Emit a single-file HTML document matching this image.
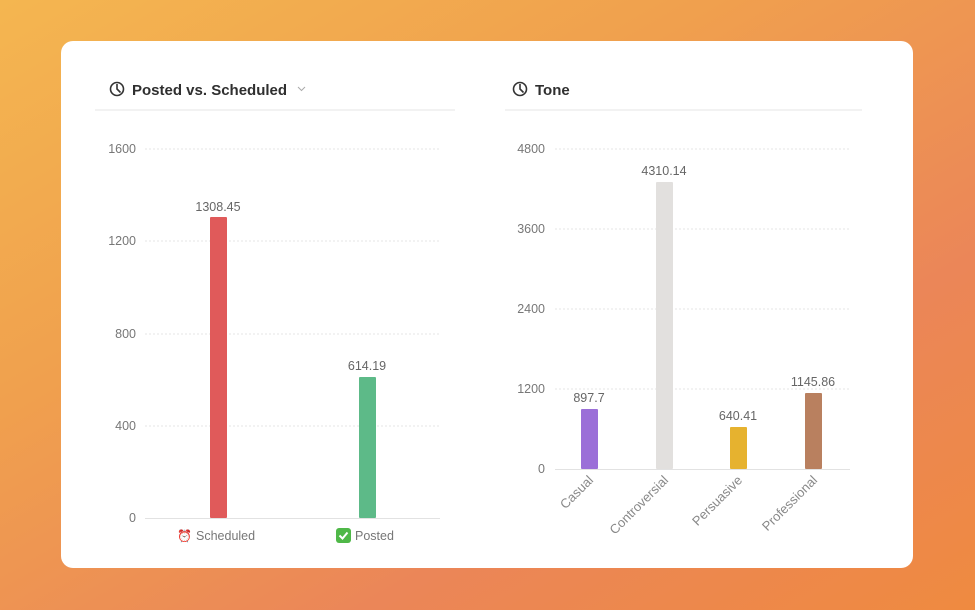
<!DOCTYPE html>
<html><head><style>
body{margin:0;width:975px;height:610px;overflow:hidden;font-family:"Liberation Sans",sans-serif;
background:linear-gradient(150deg,#f4b650 0%,#f0a04e 35%,#eb8658 70%,#ef8a40 100%);}
.card{position:absolute;left:61px;top:41px;width:852px;height:527px;background:#fff;border-radius:12px;}
svg{position:absolute;left:0;top:0}
</style></head><body>
<div class="card"></div>
<svg width="975" height="610" font-family="Liberation Sans, sans-serif">
<g fill="none" stroke="#333" stroke-width="1.6">
<circle cx="117" cy="89" r="6.5"/><path d="M117 84v5l3.5 3.5"/>
<circle cx="520" cy="89" r="6.5"/><path d="M520 84v5l3.5 3.5"/>
</g>
<text x="132" y="95" font-size="15" font-weight="bold" fill="#2f2f2f">Posted vs. Scheduled</text>
<path d="M298 87l3.5 3.5 3.5-3.5" stroke="#aaa" fill="none" stroke-width="1"/>
<text x="535" y="95" font-size="15" font-weight="bold" fill="#2f2f2f">Tone</text>
<line x1="95" y1="110" x2="455" y2="110" stroke="#eee" stroke-width="1.5"/>
<line x1="505" y1="110" x2="862" y2="110" stroke="#eee" stroke-width="1.5"/>
<g stroke="#e4e4e4" stroke-dasharray="2,2">
<line x1="145" x2="440" y1="149" y2="149"/><line x1="145" x2="440" y1="241" y2="241"/>
<line x1="145" x2="440" y1="334" y2="334"/><line x1="145" x2="440" y1="426" y2="426"/>
<line x1="555" x2="850" y1="149" y2="149"/><line x1="555" x2="850" y1="229" y2="229"/>
<line x1="555" x2="850" y1="309" y2="309"/><line x1="555" x2="850" y1="389" y2="389"/>
</g>
<line x1="145" x2="440" y1="518.5" y2="518.5" stroke="#e2e2e2"/>
<line x1="555" x2="850" y1="469.5" y2="469.5" stroke="#e2e2e2"/>
<g font-size="12.5" fill="#777" text-anchor="end">
<text x="136" y="153">1600</text><text x="136" y="245">1200</text><text x="136" y="338">800</text>
<text x="136" y="430">400</text><text x="136" y="522">0</text>
<text x="545" y="153">4800</text><text x="545" y="233">3600</text><text x="545" y="313">2400</text>
<text x="545" y="393">1200</text><text x="545" y="473">0</text>
</g>
<rect x="210" y="217" width="17" height="301" fill="#e05a5a" rx="1"/>
<rect x="359" y="377" width="17" height="141" fill="#5dba88" rx="1"/>
<rect x="581" y="409" width="17" height="60" fill="#9b6fd8" rx="1"/>
<rect x="656" y="182" width="17" height="287" fill="#e2e0de" rx="1"/>
<rect x="730" y="427" width="17" height="42" fill="#e6b22f" rx="1"/>
<rect x="805" y="393" width="17" height="76" fill="#b9805f" rx="1"/>
<g font-size="12.5" fill="#666" text-anchor="middle">
<text x="218" y="211">1308.45</text><text x="367" y="370">614.19</text>
<text x="589" y="402">897.7</text><text x="664" y="175">4310.14</text>
<text x="738" y="420">640.41</text><text x="813" y="386">1145.86</text>
</g>
<g font-size="12.5" fill="#777">
<text x="177" y="540" font-size="12">⏰</text><text x="196" y="540">Scheduled</text>
<rect x="336" y="528" width="15" height="15" rx="3" fill="#4fb848"/>
<path d="M339.5 535.5l3 3 5-6" stroke="#fff" stroke-width="2" fill="none"/>
<text x="355" y="540">Posted</text>
</g>
<g font-size="13" fill="#888" text-anchor="end">
<text transform="translate(594,481) rotate(-45)">Casual</text>
<text transform="translate(669,481) rotate(-45)">Controversial</text>
<text transform="translate(743,481) rotate(-45)">Persuasive</text>
<text transform="translate(818,481) rotate(-45)">Professional</text>
</g>
</svg>
</body></html>
